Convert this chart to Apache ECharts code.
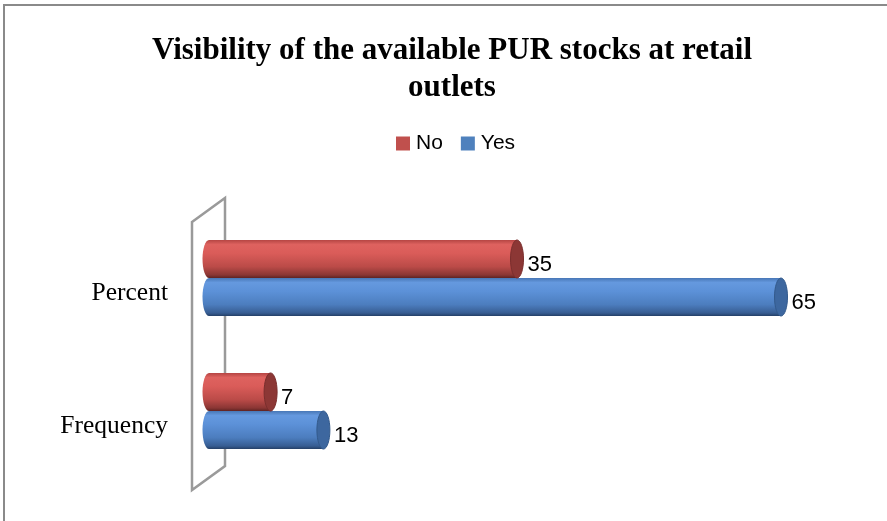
<!DOCTYPE html>
<html>
<head>
<meta charset="utf-8">
<script src="https://cdn.jsdelivr.net/npm/echarts@6/dist/echarts.min.js"></script>
<style>html,body{margin:0;padding:0;background:#fff;}#c{width:887px;height:521px;}</style>
</head>
<body>
<div id="c"></div>
<script>
var categories = ['Frequency', 'Percent'];
var seriesNames = ['No', 'Yes'];
var noValues = [7, 35];
var yesValues = [13, 65];
var titleText = 'Visibility of the available PUR stocks at retail\noutlets';

var chart = echarts.init(document.getElementById('c'));

var palette = {
  No: {
    body: [[0, '#B54543'], [0.12, '#DE625F'], [0.35, '#DA5C59'], [0.7, '#BB4B48'], [0.92, '#8A3634'], [1, '#5E2322']],
    cap: '#8C3735', capEdge: '#7A2E2D', legend: '#C0504D'
  },
  Yes: {
    body: [[0, '#4877B6'], [0.12, '#6599DF'], [0.35, '#5C91D8'], [0.7, '#4C7DBE'], [0.92, '#375D92'], [1, '#243F66']],
    cap: '#3D679F', capEdge: '#335A8C', legend: '#4F81BD'
  }
};

function grad(stops) {
  return new echarts.graphic.LinearGradient(0, 0, 0, 1, stops.map(function (s) { return { offset: s[0], color: s[1] }; }));
}

function makeCylinder(name, sign) {
  return function (params, api) {
    var v = api.value(0), c = api.value(1);
    var p0 = api.coord([0, c]);
    var p1 = api.coord([v, c]);
    var band = api.size([0, 1])[1];
    var h = band * 0.286;
    var yc = p0[1] + sign * h / 2;
    var rx = 6.5, ry = h / 2;
    var pal = palette[name];
    return {
      type: 'group',
      children: [
        { type: 'rect', shape: { x: p0[0], y: yc - ry, width: p1[0] - p0[0], height: h }, style: { fill: grad(pal.body) } },
        { type: 'ellipse', shape: { cx: p0[0], cy: yc, rx: rx, ry: ry }, style: { fill: grad(pal.body) } },
        { type: 'ellipse', shape: { cx: p1[0], cy: yc, rx: rx, ry: ry }, style: { fill: pal.cap, stroke: pal.capEdge, lineWidth: 1 } },
        { type: 'text', style: { text: String(v), x: p1[0] + rx + 4, y: yc + 6, align: 'left', verticalAlign: 'middle', fill: '#000', font: '22px "Liberation Sans", Arial, sans-serif' } }
      ]
    };
  };
}

function wallRender(params, api) {
  var top = api.coord([0, 1]);
  var bot = api.coord([0, 0]);
  var band = api.size([0, 1])[1];
  var gTop = top[1] - band / 2, gBot = bot[1] + band / 2;
  var x0 = top[0];
  var xl = x0 - 17, xr = x0 + 16;
  return {
    type: 'polygon',
    shape: { points: [[xl, gTop + 10.5], [xr, gTop - 13.5], [xr, gBot - 11.5], [xl, gBot + 12.5]] },
    style: { fill: 'none', stroke: '#9A9A9A', lineWidth: 2.5 }
  };
}

var option = {
  animation: false,
  backgroundColor: '#fff',
  title: {
    text: titleText,
    left: 447, top: 27, textAlign: 'center',
    textStyle: { fontFamily: '"Liberation Serif", "Times New Roman", serif', fontWeight: 'bold', fontSize: 31, lineHeight: 37, color: '#000' }
  },
  legend: {
    data: seriesNames,
    left: 391, top: 128,
    icon: 'rect', itemWidth: 14, itemHeight: 14, itemGap: 18,
    textStyle: { fontFamily: '"Liberation Sans", Arial, sans-serif', fontSize: 21, color: '#000', padding: [0, 0, 0, 1] }
  },
  grid: { left: 209, right: 18, top: 211.5, bottom: 43.5 },
  xAxis: { type: 'value', min: 0, max: 75, show: false },
  yAxis: {
    type: 'category', data: categories,
    axisLine: { show: false }, axisTick: { show: false },
    axisLabel: { margin: 41, color: '#000', fontFamily: '"Liberation Serif", "Times New Roman", serif', fontSize: 25.5, lineHeight: 26, verticalAlign: 'top', padding: [2, 0, 0, 0] }
  },
  graphic: [
    { type: 'rect', shape: { x: 4, y: 5, width: 1000, height: 700 }, style: { fill: 'none', stroke: '#8A8A8A', lineWidth: 2 }, z: 100 }
  ],
  series: [
    { type: 'custom', name: '_wall', data: [[0, 0]], renderItem: wallRender, z: 1, silent: true, encode: { x: 0, y: 1 } },
    { type: 'custom', name: 'No', itemStyle: { color: palette.No.legend }, data: noValues.map(function (v, i) { return [v, i]; }), renderItem: makeCylinder('No', -1), encode: { x: 0, y: 1 }, z: 3 },
    { type: 'custom', name: 'Yes', itemStyle: { color: palette.Yes.legend }, data: yesValues.map(function (v, i) { return [v, i]; }), renderItem: makeCylinder('Yes', 1), encode: { x: 0, y: 1 }, z: 2 }
  ]
};
chart.setOption(option);
</script>
</body>
</html>
